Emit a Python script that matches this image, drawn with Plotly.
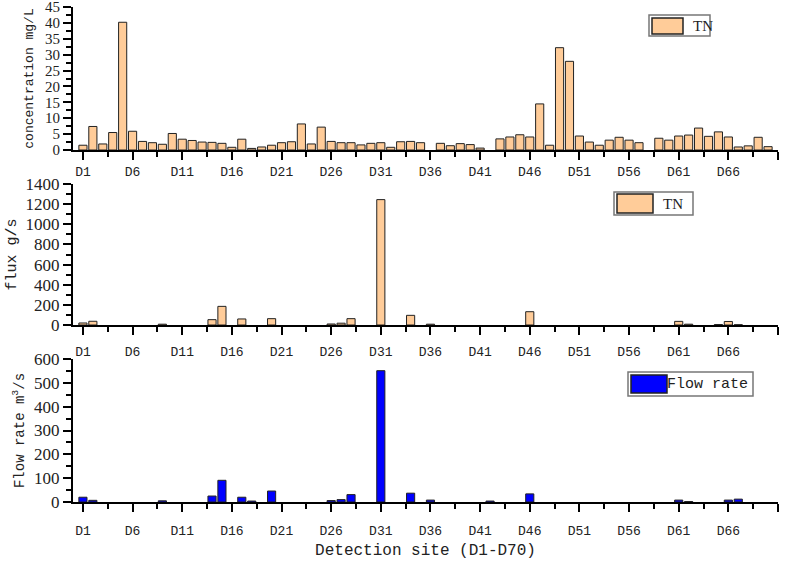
import plotly.graph_objects as go

sites = [f"D{i}" for i in range(1, 71)]
site_pos = list(range(1, 71))

conc_tn = [1.5, 7.4, 1.9, 5.5, 40.2, 5.9, 2.7, 2.3, 1.8, 5.2,
           3.4, 3.0, 2.5, 2.4, 2.1, 0.85, 3.4, 0.5, 0.95, 1.5,
           2.3, 2.6, 8.2, 1.9, 7.2, 2.7, 2.3, 2.3, 1.6, 2.1,
           2.3, 0.85, 2.6, 2.7, 2.3, 0, 2.1, 1.35, 2.0, 1.7,
           0.6, 0, 3.5, 4.1, 4.8, 4.1, 14.5, 1.5, 32.2, 27.9,
           4.4, 2.5, 1.5, 3.1, 4.0, 3.1, 2.3, 0, 3.7, 3.1,
           4.4, 4.7, 6.9, 4.3, 5.7, 4.1, 0.95, 1.3, 4.0, 1.05]

flux_tn = [20, 37, 0, 0, 0, 0, 0, 0, 8, 0,
           0, 0, 0, 53, 185, 0, 60, 0, 0, 63,
           0, 0, 0, 0, 0, 10, 18, 63, 0, 0,
           1245, 0, 0, 96, 0, 8, 0, 0, 0, 0,
           0, 0, 0, 0, 0, 132, 0, 0, 0, 0,
           0, 0, 0, 0, 0, 0, 0, 0, 0, 0,
           36, 8, 0, 0, 5, 35, 3, 0, 0, 0]

flow_rate = [20, 7, 0, 0, 0, 0, 0, 0, 5, 0,
             0, 0, 0, 25, 91, 0, 20, 4, 0, 46,
             0, 0, 0, 0, 0, 6, 10, 31, 0, 0,
             551, 0, 0, 37, 0, 8, 0, 0, 0, 0,
             0, 4, 0, 0, 0, 34, 0, 0, 0, 0,
             0, 0, 0, 0, 0, 0, 0, 0, 0, 0,
             8, 2, 0, 0, 0, 8, 12, 0, 0, 0]

major_vals = list(range(1, 72, 5))
major_text = [f"D{v}" for v in range(1, 67, 5)] + [""]
minor_vals = [v + 2.5 for v in range(1, 70, 5)]

PEACH = "#FFCC99"
BLUE = "#0000FF"
MONO = "Liberation Mono, Courier New, monospace"
SERIF = "Liberation Serif, Times New Roman, serif"
TXT = "#222"

# plot area in pixels: x 73..778, y 7..502
L, R, T, B = 73, 778, 7, 502
def px(x):
    return (x - L) / (R - L)
def py(y):
    return (B - y) / (B - T)

def nz(vals):
    return [v if v != 0 else None for v in vals]

fig = go.Figure()
fig.add_trace(go.Bar(x=site_pos, y=nz(conc_tn), name="TN", marker=dict(color=PEACH, line=dict(color="#222", width=1)),
                     xaxis="x", yaxis="y"))
fig.add_trace(go.Bar(x=site_pos, y=nz(flux_tn), name="TN", marker=dict(color=PEACH, line=dict(color="#222", width=1)),
                     xaxis="x2", yaxis="y2"))
fig.add_trace(go.Bar(x=site_pos, y=nz(flow_rate), name="Flow rate", marker=dict(color=BLUE, line=dict(color="#222", width=1)),
                     xaxis="x3", yaxis="y3"))

def xax(anchor, lstand, title=None):
    d = dict(anchor=anchor, range=[0, 71], domain=[0, 1], tickmode="array", tickvals=major_vals, ticktext=major_text,
             ticks="outside", ticklen=8, tickwidth=2, tickcolor="black", showline=True, linecolor="black", linewidth=2,
             showgrid=False, zeroline=False, tickfont=dict(family=MONO, size=13, color=TXT), automargin=False,
             ticklabelstandoff=lstand,
             minor=dict(tickmode="array", tickvals=minor_vals, ticks="outside", ticklen=5, tickwidth=1.5,
                        tickcolor="black", showgrid=False))
    if title:
        d["title"] = dict(text=title, font=dict(family=MONO, size=16, color=TXT), standoff=6)
    return d

def yax(anchor, domain, rng, dtick, title, tsize, fsize, standoff):
    return dict(anchor=anchor, domain=domain, range=rng, dtick=dtick, ticks="outside", ticklen=8, tickwidth=2,
                tickcolor="black", showline=True, linecolor="black", linewidth=2, showgrid=False, zeroline=False,
                tickfont=dict(family=SERIF, size=tsize, color=TXT), automargin=False, ticklabeloverflow="allow",
                minor=dict(dtick=dtick / 2, ticks="outside", ticklen=5, tickwidth=1.5, tickcolor="black", showgrid=False),
                title=dict(text=title, font=dict(family=MONO, size=fsize, color=TXT), standoff=standoff))

shapes = []
annotations = []
def legend_box(box, patch, color, text, font, tx):
    x0, y0, x1, y1 = box
    shapes.append(dict(type="rect", xref="paper", yref="paper", x0=px(x0), x1=px(x1), y0=py(y1), y1=py(y0),
                       line=dict(color="#777", width=1.5), fillcolor="white", layer="above"))
    a0, b0, a1, b1 = patch
    shapes.append(dict(type="rect", xref="paper", yref="paper", x0=px(a0), x1=px(a1), y0=py(b1), y1=py(b0),
                       line=dict(color="#222", width=1.5), fillcolor=color, layer="above"))
    annotations.append(dict(xref="paper", yref="paper", x=px(tx), y=py((y0 + y1) / 2), text=text, showarrow=False,
                            xanchor="left", yanchor="middle", font=font))

legend_box((649, 15, 710, 36), (652, 18, 683, 34), PEACH, "TN", dict(family=SERIF, size=15, color=TXT), 691)
legend_box((614, 192, 693, 215), (617, 194, 653, 213), PEACH, "TN", dict(family=SERIF, size=15, color=TXT), 661)
legend_box((628, 372, 753, 396), (631, 375, 667, 393), BLUE, "Flow rate", dict(family=MONO, size=15, color=TXT), 665)

fig.update_layout(
    width=789, height=564,
    margin=dict(l=L, r=789 - R, t=T, b=564 - B),
    paper_bgcolor="white", plot_bgcolor="white",
    bargap=0.18,
    showlegend=False,
    xaxis=xax("y", 0),
    xaxis2=xax("y2", 5),
    xaxis3=xax("y3", 7, "Detection site (D1-D70)"),
    yaxis=yax("x", [py(150), py(7)], [0, 45], 5, "concentration mg/L", 15, 13, 8),
    yaxis2=yax("x2", [py(325), py(184)], [0, 1400], 200, "flux g/s", 17, 15, 5),
    yaxis3=yax("x3", [py(502), py(359)], [0, 600], 100, "Flow rate m<sup>3</sup>/s", 17, 14, 6),
    shapes=shapes,
    annotations=annotations,
)

fig.write_html("out.html", config={"displayModeBar": False},
               post_script="document.body.style.margin='0px';document.body.style.padding='0px';")
